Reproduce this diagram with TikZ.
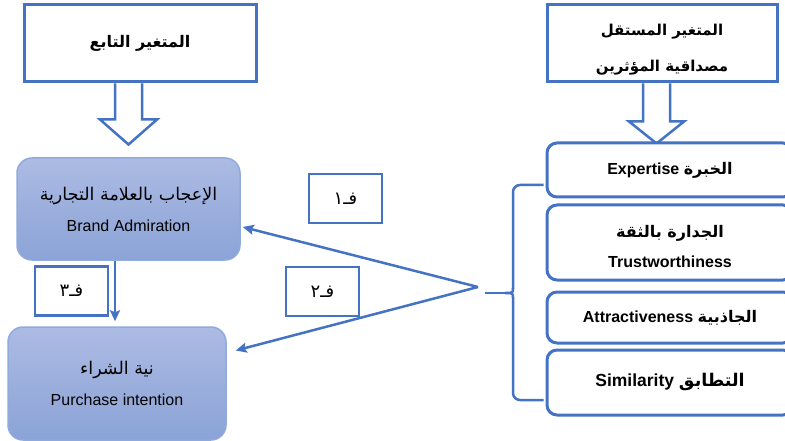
\documentclass[tikz,border=0pt]{standalone}
\usepackage{fontspec}
\setmainfont{Liberation Sans}
\newfontfamily\arabicfont[Script=Arabic]{DejaVu Sans}
\TeXXeTstate=1
\usetikzlibrary{arrows.meta,calc}
\newcommand{\artext}[1]{{\arabicfont\beginR #1\endR}}
\newcommand{\arbig}[1]{{\arabicfont\fontsize{17.5}{20}\selectfont\beginR #1\endR}}
\definecolor{lineblue}{RGB}{68,114,196}
\definecolor{boxtop}{RGB}{172,187,227}
\definecolor{boxbot}{RGB}{139,163,215}
\definecolor{boxline}{RGB}{143,170,220}

\begin{document}
\begin{tikzpicture}[x=1pt,y=-1pt,
    varbox/.style={draw=lineblue,line width=3pt,fill=white,minimum width=232pt,minimum height=77pt,
      align=center,inner sep=0pt,font=\bfseries\fontsize{16}{36}\selectfont},
    depbox/.style={draw=boxline,line width=1.5pt,rounded corners=15pt,top color=boxtop,bottom color=boxbot,
      align=center,inner sep=0pt,font=\fontsize{16}{31}\selectfont},
    dimbox/.style={draw=lineblue,line width=3pt,rounded corners=10pt,fill=white,minimum width=246pt,
      align=center,inner sep=0pt,font=\bfseries\fontsize{16}{30}\selectfont},
    hypbox/.style={draw=lineblue,line width=2.5pt,fill=white,minimum width=73pt,minimum height=49pt,
      inner sep=0pt,font=\fontsize{18}{20}\selectfont},
    link/.style={draw=lineblue,line width=2.5pt,-{Stealth[length=11pt,width=10pt,inset=2pt]}},
    hollow/.style={draw=lineblue,line width=2.5pt,fill=white,line join=miter},
    brace/.style={draw=lineblue,line width=2.5pt}]
  \useasboundingbox (0,0) rectangle (785,441);
  \clip (0,0) rectangle (785,441);

  % variables
  \node[varbox] (dep) at (140,43.5) {\artext{المتغير التابع}};
  \node[varbox,minimum width=230pt] (ind) at (662,43.5) {};
  \node[align=center,font=\bfseries\fontsize{15}{36}\selectfont] (indtxt) at ($(ind.center)+(0,6)$)
    {\artext{المتغير المستقل}\\\artext{مصداقية المؤثرين}};

  \draw[hollow] ($(dep.south)+(-25,0)$) -- ++(0,36) -- ++(-15,0) -- ++(28.5,25) -- ++(28.5,-25) -- ++(-15,0) -- ++(0,-36);
  \draw[hollow] ($(ind.south)+(-19,0)$) -- ++(0,38) -- ++(-14,0) -- ++(27.5,22) -- ++(27.5,-22) -- ++(-14,0) -- ++(0,-38);

  % dependent side
  \node[depbox,minimum width=223pt,minimum height=102pt] (adm) at (128.5,209)
    {\arbig{الإعجاب بالعلامة التجارية}\\Brand Admiration};
  \node[depbox,minimum width=218pt,minimum height=113pt] (pur) at (117,383.5)
    {\arbig{نية الشراء}\\Purchase intention};

  % dimensions
  \node[dimbox,minimum height=54pt] (exp) at (670,170) {Expertise \artext{الخبرة}};
  \node[dimbox,minimum height=75pt] (tru) at (670,242.5) {};
  \node[align=center,font=\bfseries\fontsize{16}{30}\selectfont] (trutxt) at ($(tru.center)+(0,4)$)
    {\artext{الجدارة بالثقة}\\Trustworthiness};
  \node[dimbox,minimum height=51pt] (att) at (670,317.5) {Attractiveness \artext{الجاذبية}};
  \node[dimbox,minimum height=65pt,font=\bfseries\fontsize{17.5}{20}\selectfont] (sim) at (670,382.5) {Similarity \artext{التطابق}};

  % hypotheses
  \node[hypbox] (h1) at (345.5,198.5) {\artext{فـ١}};
  \node[hypbox] (h2) at (322.5,291.5) {\artext{فـ٢}};
  \node[hypbox] (h3) at (71.5,291) {\artext{فـ٣}};

  % brace
  \coordinate (bt) at ($(exp.west)+(-2,15)$);
  \coordinate (bb) at ($(sim.west)+(-2,17.5)$);
  \coordinate (apex) at (478,287);
  \draw[brace,rounded corners=7pt] (bt) -- (513,185) -- (513,289);
  \draw[brace] (513,288) .. controls (513,293) .. (505,293) .. controls (513,293) .. (513,298);
  \draw[brace,rounded corners=7pt] (513,297) -- (513,400) -- (bb);
  \draw[brace] (485,293) -- (506,293);

  % links
  \draw[link] (apex) -- ($(adm.east)+(2,18)$);
  \draw[link] (apex) -- ($(pur.east)+(9,-33)$);
  \draw[link] ($(adm.south)+(-13.5,0)$) -- ($(pur.north)+(-2,-5)$);
\end{tikzpicture}
\end{document}
